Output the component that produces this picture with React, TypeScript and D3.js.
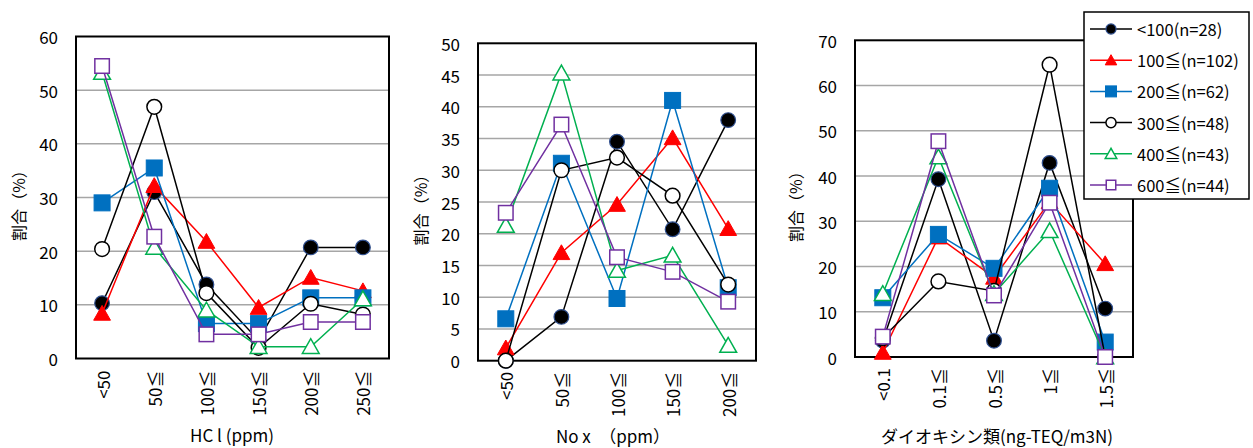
import React from "react";
import * as d3 from "d3";

// ---------- data ----------
const hclCats = ["<50", "50≦", "100≦", "150≦", "200≦", "250≦"];
const noxCats = ["<50", "50≦", "100≦", "150≦", "200≦"];
const dxnCats = ["<0.1", "0.1≦", "0.5≦", "1≦", "1.5≦"];

const seriesNames = ["<100(n=28)", "100≦(n=102)", "200≦(n=62)", "300≦(n=48)", "400≦(n=43)", "600≦(n=44)"];

// HCl (%)
const hclLt100 = [10.3, 31.0, 13.8, 3.4, 20.7, 20.7];
const hcl100 = [8.4, 32.2, 21.8, 9.5, 15.1, 12.6];
const hcl200 = [29.0, 35.5, 6.5, 6.5, 11.3, 11.3];
const hcl300 = [20.4, 46.9, 12.2, 2.0, 10.2, 8.2];
const hcl400 = [53.3, 20.7, 9.0, 2.2, 2.2, 11.1];
const hcl600 = [54.5, 22.7, 4.5, 4.5, 6.8, 6.8];

// NOx (%)
const noxLt100 = [0, 6.9, 34.5, 20.7, 37.9];
const nox100 = [2.0, 17.0, 24.6, 35.1, 20.8];
const nox200 = [6.6, 31.1, 9.8, 41.0, 11.5];
const nox300 = [0, 30.0, 32.0, 26.0, 12.0];
const nox400 = [21.3, 45.3, 14.2, 16.6, 2.4];
const nox600 = [23.3, 37.2, 16.3, 14.0, 9.3];

// Dioxins (%)
const dxnLt100 = [3.6, 39.3, 3.6, 42.9, 10.7];
const dxn100 = [1.0, 26.5, 17.6, 34.3, 20.6];
const dxn200 = [13.1, 27.1, 19.6, 37.3, 3.3];
const dxn300 = [4.2, 16.7, 14.6, 64.6, 0];
const dxn400 = [14.0, 44.2, 14.0, 27.9, 0];
const dxn600 = [4.5, 47.7, 13.6, 34.1, 0];

const hclSeries = [hclLt100, hcl100, hcl200, hcl300, hcl400, hcl600];
const noxSeries = [noxLt100, nox100, nox200, nox300, nox400, nox600];
const dxnSeries = [dxnLt100, dxn100, dxn200, dxn300, dxn400, dxn600];

// ---------- styles ----------
const FONT = "'Noto Sans CJK JP', 'Noto Sans', sans-serif";
const styles = [
  { color: "#000000", marker: "filledCircle" },
  { color: "#ff0000", marker: "filledTriangle" },
  { color: "#0070c0", marker: "filledSquare" },
  { color: "#000000", marker: "openCircle" },
  { color: "#00b050", marker: "openTriangle" },
  { color: "#7030a0", marker: "openSquare" },
];

function Marker({ type, x, y, s, color }: { type: string; x: number; y: number; s: number; color: string }) {
  const h = s / 2;
  if (type === "filledCircle")
    return <circle cx={x} cy={y} r={h * 0.92} fill="#000" stroke="#2f4f8f" strokeWidth={1.2} />;
  if (type === "openCircle")
    return <circle cx={x} cy={y} r={h * 0.92} fill="#fff" stroke={color} strokeWidth={1.5} />;
  if (type === "filledSquare")
    return <rect x={x - h} y={y - h} width={s} height={s} fill={color} stroke={color} strokeWidth={1} />;
  if (type === "openSquare")
    return <rect x={x - h + 0.75} y={y - h + 0.75} width={s - 1.5} height={s - 1.5} fill="#fff" stroke={color} strokeWidth={1.5} />;
  const pts = `${x},${y - h} ${x - h * 1.05},${y + h * 0.85} ${x + h * 1.05},${y + h * 0.85}`;
  if (type === "filledTriangle") return <polygon points={pts} fill={color} stroke={color} strokeWidth={1} />;
  return <polygon points={pts} fill="#fff" stroke={color} strokeWidth={1.5} />;
}

type PanelProps = {
  left: number; right: number; top: number; bottom: number;
  cats: string[]; series: number[][]; yMax: number; yStep: number;
  yTitleX: number; xTitle: string; xTitleX: number; xTitleY: number; xTitleSize: number;
  labelGap: number;
};

function Panel(p: PanelProps) {
  const x = d3.scaleBand().domain(p.cats).range([p.left, p.right]).paddingInner(0).paddingOuter(0);
  const y = d3.scaleLinear().domain([0, p.yMax]).range([p.bottom, p.top]);
  const ticks = d3.range(0, p.yMax + p.yStep / 2, p.yStep);
  const cx = (c: string) => (x(c) as number) + x.bandwidth() / 2;
  const line = d3.line<number>().x((_, i) => cx(p.cats[i])).y((v) => y(v));
  return (
    <g>
      {ticks.filter((t) => t > 0 && t < p.yMax).map((t) => (
        <line key={t} x1={p.left} x2={p.right} y1={y(t)} y2={y(t)} stroke="#a6a6a6" strokeWidth={1.5} />
      ))}
      <rect x={p.left} y={p.top} width={p.right - p.left} height={p.bottom - p.top} fill="none" stroke="#000" strokeWidth={2} />
      {ticks.map((t) => (
        <text key={t} x={p.left - 18} y={y(t)} textAnchor="end" dominantBaseline="central" fontSize={17} fontFamily={FONT}>
          {t}
        </text>
      ))}
      {p.cats.map((c) => (
        <text key={c} transform={`translate(${cx(c)},${p.bottom + p.labelGap}) rotate(-90)`} textAnchor="end"
          dominantBaseline="central" fontSize={17} fontFamily={FONT}>
          {c}
        </text>
      ))}
      <text transform={`translate(${p.yTitleX},${(p.top + p.bottom) / 2 + 4}) rotate(-90)`} textAnchor="middle"
        dominantBaseline="central" fontSize={16} fontFamily={FONT}>
        割合（%）
      </text>
      <text x={p.xTitleX} y={p.xTitleY} textAnchor="middle" dominantBaseline="central" fontSize={p.xTitleSize} fontFamily={FONT}>
        {p.xTitle}
      </text>
      {p.series.map((vals, si) => (
        <g key={si}>
          <path d={line(vals) as string} fill="none" stroke={styles[si].color} strokeWidth={1.5} />
          {vals.map((v, i) => (
            <Marker key={i} type={styles[si].marker} x={cx(p.cats[i])} y={y(v)} s={16} color={styles[si].color} />
          ))}
        </g>
      ))}
    </g>
  );
}

function Legend() {
  const lx = 1084, ly = 12, lw = 165, lh = 187;
  const rowY = d3.scaleLinear().domain([0, 5]).range([29, 185]);
  return (
    <g>
      <rect x={lx} y={ly} width={lw} height={lh} fill="#fff" stroke="#000" strokeWidth={1.5} />
      {seriesNames.map((n, i) => (
        <g key={n}>
          <line x1={1090} x2={1132} y1={rowY(i)} y2={rowY(i)} stroke={styles[i].color} strokeWidth={1.5} />
          <Marker type={styles[i].marker} x={1111} y={rowY(i)} s={11} color={styles[i].color} />
          <text x={1137} y={rowY(i)} dominantBaseline="central" fontSize={16.5} fontFamily={FONT}>
            {n}
          </text>
        </g>
      ))}
    </g>
  );
}

export default function App() {
  return (
    <svg width={1253} height={448} style={{ position: "absolute", left: 0, top: 0, background: "#fff" }}>
      <rect x={0} y={0} width={1253} height={448} fill="#fff" />
      <Panel left={76} right={389} top={36.5} bottom={358.5} cats={hclCats} series={hclSeries} yMax={60} yStep={10}
        yTitleX={18} xTitle="HC l (ppm)" xTitleX={232} xTitleY={434} xTitleSize={17} labelGap={12} />
      <Panel left={478} right={756} top={43.3} bottom={360.7} cats={noxCats} series={noxSeries} yMax={50} yStep={5}
        yTitleX={420} xTitle="No x　（ppm）" xTitleX={613} xTitleY={435} xTitleSize={17} labelGap={11} />
      <Panel left={855} right={1133} top={40.3} bottom={357} cats={dxnCats} series={dxnSeries} yMax={70} yStep={10}
        yTitleX={795} xTitle="ダイオキシン類(ng-TEQ/m3N)" xTitleX={997} xTitleY={435} xTitleSize={17} labelGap={11} />
      <Legend />
    </svg>
  );
}
